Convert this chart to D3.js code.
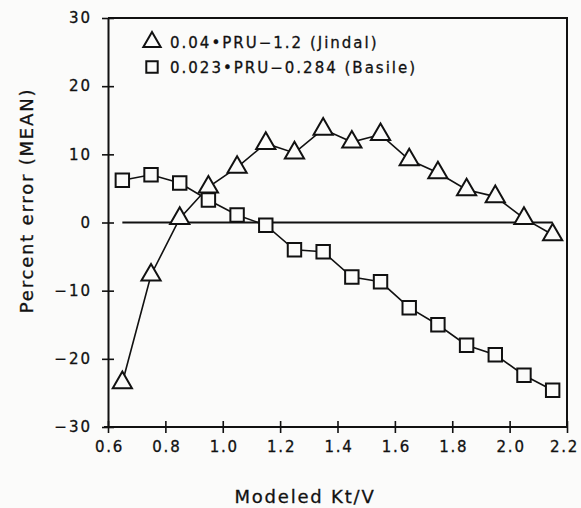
<!DOCTYPE html>
<html>
<head>
<meta charset="utf-8">
<script src="https://cdn.jsdelivr.net/npm/d3@7"></script>
<style>
  body { margin: 0; background: #fbfbfa; }
  text { font-family: "DejaVu Sans", sans-serif; fill: #111; }
</style>
</head>
<body>
<div id="chart"></div>
<script>
// data
var ktv = [0.65, 0.75, 0.85, 0.95, 1.05, 1.15, 1.25, 1.35, 1.45, 1.55, 1.65, 1.75, 1.85, 1.95, 2.05, 2.15];
var jindal = [-23.5, -7.7, 0.6, 5.2, 8.1, 11.6, 10.2, 13.7, 11.8, 12.9, 9.2, 7.3, 4.8, 3.8, 0.6, -1.8];
var basile = [6.2, 7.0, 5.8, 3.3, 1.1, -0.4, -4.0, -4.3, -8.0, -8.7, -12.5, -15.0, -18.0, -19.4, -22.4, -24.6];
var xTicks = [0.6, 0.8, 1.0, 1.2, 1.4, 1.6, 1.8, 2.0, 2.2];
var yTicks = [-30, -20, -10, 0, 10, 20, 30];
var legendLabels = ["0.04\u2022PRU\u22121.2 (Jindal)", "0.023\u2022PRU\u22120.284 (Basile)"];

//dimensions and margins
var W = 581, H = 508;
var margin = {top: 18, right: 14, bottom: 81, left: 108},
width = W - margin.left - margin.right,
height = H - margin.top - margin.bottom;

var svg = d3.select("#chart")
.append("svg")
.attr("width", W)
.attr("height", H)
.append("g")
.attr("transform", "translate(" + margin.left + "," + margin.top + ")");

//scales
var x = d3.scaleLinear().domain([0.6, 2.2]).range([0, width]);
var y = d3.scaleLinear().domain([-30, 30]).range([height, 0]);

//frame (top and right)
svg.append("path")
.attr("d", "M0,0H" + width + "V" + height)
.attr("fill", "none")
.attr("stroke", "#111")
.attr("stroke-width", 2);

//x axis
var gx = svg.append("g")
.attr("transform", "translate(0," + height + ")")
.call(d3.axisBottom(x).tickValues(xTicks).tickFormat(d3.format(".1f")).tickSizeOuter(0));
gx.select(".domain").attr("d", "M-4,0H" + width).attr("stroke-width", 2).attr("stroke", "#111");
gx.selectAll(".tick line").attr("y1", -6).attr("y2", 6).attr("stroke-width", 1.6).attr("stroke", "#111");
gx.selectAll(".tick text").attr("y", 14).attr("font-size", 15).attr("letter-spacing", 1.8)
.attr("font-family", "DejaVu Sans").attr("stroke", "#111").attr("stroke-width", 0.3)
.attr("dx", function(d){ return d === 2.2 ? -3 : 1; });

//y axis
var gy = svg.append("g")
.call(d3.axisLeft(y).tickValues(yTicks).tickFormat(function(d){ return d < 0 ? "\u2212" + Math.abs(d) : d; }).tickSizeOuter(0));
gy.select(".domain").attr("stroke-width", 2).attr("stroke", "#111");
gy.selectAll(".tick line").attr("x1", -6).attr("x2", 6).attr("stroke-width", 1.6).attr("stroke", "#111");
gy.selectAll(".tick text").attr("x", -16).attr("font-size", 15).attr("letter-spacing", 2)
.attr("font-family", "DejaVu Sans").attr("stroke", "#111").attr("stroke-width", 0.3);

//zero line from first to last point
svg.append("line")
.attr("x1", x(ktv[0])).attr("x2", x(ktv[ktv.length - 1]))
.attr("y1", y(0)).attr("y2", y(0))
.attr("stroke", "#111").attr("stroke-width", 2);

//axis titles
svg.append("text")
.attr("x", 197).attr("y", height + 76)
.attr("text-anchor", "middle")
.attr("font-size", 18).attr("letter-spacing", 1.8)
.attr("stroke", "#111").attr("stroke-width", 0.3)
.text("Modeled Kt/V");

svg.append("text")
.attr("transform", "translate(" + (-75) + "," + (y(0) - 22) + ") rotate(-90)")
.attr("text-anchor", "middle")
.attr("font-size", 18).attr("letter-spacing", 1.8)
.attr("stroke", "#111").attr("stroke-width", 0.3)
.text("Percent error (MEAN)");

//lines
var line = d3.line()
.x(function(d){ return x(d[0]); })
.y(function(d){ return y(d[1]); });

var jData = d3.zip(ktv, jindal);
var bData = d3.zip(ktv, basile);

svg.append("path").datum(jData).attr("d", line)
.attr("fill", "none").attr("stroke", "#111").attr("stroke-width", 1.6);
svg.append("path").datum(bData).attr("d", line)
.attr("fill", "none").attr("stroke", "#111").attr("stroke-width", 1.6);

//markers
var tri = d3.symbol().type(d3.symbolTriangle).size(160);
var sq = d3.symbol().type(d3.symbolSquare).size(180);

svg.selectAll(".tri")
.data(jData)
.enter().append("path")
.attr("class", "tri")
.attr("d", tri)
.attr("transform", function(d){ return "translate(" + x(d[0]) + "," + y(d[1]) + ")"; })
.attr("fill", "#fbfbfa").attr("stroke", "#111").attr("stroke-width", 2);

svg.selectAll(".sq")
.data(bData)
.enter().append("path")
.attr("class", "sq")
.attr("d", sq)
.attr("transform", function(d){ return "translate(" + x(d[0]) + "," + y(d[1]) + ")"; })
.attr("fill", "#fbfbfa").attr("stroke", "#111").attr("stroke-width", 2);

//legend
var tri2 = d3.symbol().type(d3.symbolTriangle).size(130);
var sq2 = d3.symbol().type(d3.symbolSquare).size(130);
var legend = svg.append("g").attr("transform", "translate(44,24)");
legend.append("path").attr("d", tri2).attr("fill", "none").attr("stroke", "#111").attr("stroke-width", 2);
legend.append("path").attr("d", sq2).attr("transform", "translate(0,25)")
.attr("fill", "none").attr("stroke", "#111").attr("stroke-width", 2);
legend.selectAll(".lab")
.data(legendLabels)
.enter().append("text")
.attr("x", 18).attr("y", function(d, i){ return i * 25 + 6; })
.attr("font-size", 15).attr("letter-spacing", 2)
.attr("stroke", "#111").attr("stroke-width", 0.3)
.text(function(d){ return d; });
</script>
</body>
</html>
